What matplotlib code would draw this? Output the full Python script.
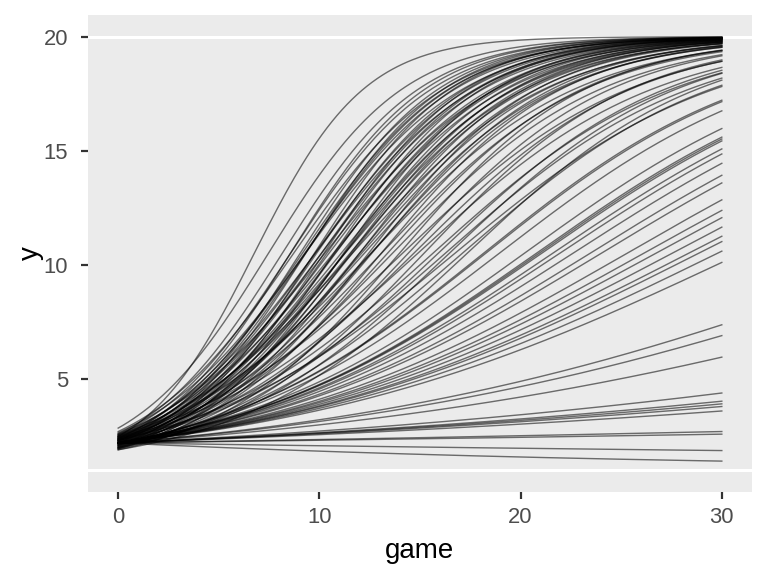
import numpy as np
import matplotlib
matplotlib.use("Agg")
import matplotlib.pyplot as plt

# Each curve is a logistic growth curve bounded between 1 and 20.
# Values: y at game 0 and y at game 15.
lower_bound = 1
upper_bound = 20

start_fast = [2.48, 2.85, 2.6, 2.4, 2.55, 2.3, 2.7, 2.2, 2.45, 2.35,
              2.5, 2.1, 2.65, 2.25, 2.4, 2.05, 2.55, 2.3, 2.15, 2.45,
              2.0, 2.35, 2.6, 2.2, 2.3, 1.95, 2.5, 2.1, 2.4, 2.25,
              2.05, 2.45, 2.15, 2.35, 2.0, 2.55, 2.2, 2.3, 1.95, 2.4,
              2.1, 2.25, 2.5, 2.0, 2.35, 2.15, 2.3, 1.9, 2.45, 2.05,
              2.2, 2.4, 1.95, 2.3, 2.1, 2.25, 2.0, 2.35, 2.15, 1.9, 2.2]
mid_fast = [19.11, 18.19, 17.75, 17.55, 17.36, 17.12, 17.0, 16.93, 16.8, 16.75,
            16.6, 16.55, 16.38, 16.2, 16.1, 16.02, 15.9, 15.84, 15.7, 15.64,
            15.46, 15.3, 15.26, 15.08, 15.0, 14.9, 14.86, 14.64, 14.5, 14.44,
            14.3, 14.22, 14.1, 14.02, 13.81, 13.7, 13.61, 13.4, 13.3, 13.16,
            12.97, 12.9, 12.74, 12.51, 12.28, 12.07, 11.75, 11.55, 11.24, 11.06,
            10.78, 10.6, 10.33, 10.0, 9.76, 9.54, 9.3, 9.25, 8.92, 8.61, 8.32]

start_slow = [2.2, 2.2, 2.2, 2.2, 2.2, 2.2, 2.2, 2.2, 2.2, 2.2,
              2.2, 2.2, 2.2, 2.2, 2.2, 2.2, 2.2, 2.2, 2.2, 2.2,
              2.2, 2.2, 2.2, 2.2, 2.2, 2.2, 2.2, 2.2, 2.2, 2.2, 2.2]
mid_slow = [8.26, 7.91, 7.34, 7.1, 7.05, 7.0, 6.80, 6.68, 6.47, 6.22,
            6.07, 5.76, 5.58, 5.46, 5.31, 5.17, 5.09, 4.95, 4.79, 3.96,
            3.82, 3.54, 3.05, 2.93, 2.89, 2.85, 2.78, 2.43, 2.38, 2.02, 1.70]

mid_game = 15
game_range = (0, 30)
x_ticks = [0, 10, 20, 30]
y_ticks = [5, 10, 15, 20]
hline_values = [1, 20]

y_start = np.array(start_fast + start_slow)
y_mid = np.array(mid_fast + mid_slow)


def logit(y):
    p = (y - lower_bound) / (upper_bound - lower_bound)
    return np.log(p / (1 - p))


games = np.linspace(game_range[0], game_range[1], 241)

fig = plt.figure(figsize=(768 / 144, 576 / 144), dpi=144)
ax = fig.add_axes([88 / 768, 1 - 492 / 576, 664 / 768, 477 / 576])
ax.set_facecolor("#EBEBEB")

for hv in hline_values:
    ax.axhline(hv, color="white", linewidth=1.5, zorder=1)

for y0, ym in zip(y_start, y_mid):
    a = logit(y0)
    b = (logit(ym) - a) / mid_game
    curve = lower_bound + (upper_bound - lower_bound) / (1 + np.exp(-(a + b * games)))
    ax.plot(games, curve, color="black", alpha=0.55, linewidth=0.7, zorder=2)

ax.set_xlim(-1.5, 31.5)
ax.set_ylim(0.05, 20.95)
ax.set_xticks(x_ticks)
ax.set_yticks(y_ticks)
ax.grid(False)
for s in ax.spines.values():
    s.set_visible(False)

font = "Liberation Sans"
ax.tick_params(axis="both", direction="out", length=3.5, width=1.1,
               color="#333333", labelcolor="#4D4D4D", labelsize=11)
ax.tick_params(axis="x", pad=4.0)
ax.tick_params(axis="y", pad=6.5)
for lab in ax.get_xticklabels() + ax.get_yticklabels():
    lab.set_fontfamily(font)
ax.set_xlabel("game", fontsize=13.9, fontfamily=font, color="black", labelpad=5)
ax.set_ylabel("y", fontsize=13.9, fontfamily=font, color="black", labelpad=0)

fig.savefig("out.png", dpi=144, facecolor="white")
